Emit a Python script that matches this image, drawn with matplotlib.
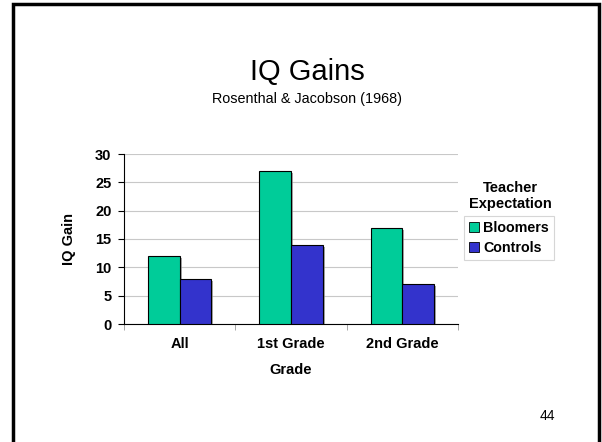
import numpy as np
import matplotlib.pyplot as plt
import matplotlib.patheffects as pe
from matplotlib.patches import Rectangle
from matplotlib.lines import Line2D

plt.rcParams['font.family'] = ['Liberation Sans', 'DejaVu Sans']

grades = ["All", "1st Grade", "2nd Grade"]
bloomers = [12, 27, 17]
controls = [8, 14, 7]
series_names = ["Bloomers", "Controls"]
green = "#00CC99"
blue = "#3333CC"

W, H = 602, 442
fig = plt.figure(figsize=(W / 100, H / 100), dpi=100)

# slide border (bottom edge is off the page)
fig.patches.append(Rectangle((13 / W, -0.05), (599 - 13) / W, (H - 4) / H + 0.05,
                             transform=fig.transFigure, fill=False,
                             edgecolor="black", linewidth=2.5))

ax = fig.add_axes([124 / W, (H - 324) / H, (458 - 124) / W, (324 - 154) / H])

x = np.arange(len(grades))
bw = 0.285
shadow = [pe.SimplePatchShadow(offset=(1.5, -1.5), shadow_rgbFace="gray", alpha=0.7), pe.Normal()]
ax.bar(x - bw / 2, bloomers, bw, color=green, edgecolor="black", linewidth=0.8,
       path_effects=shadow, zorder=3)
ax.bar(x + bw / 2, controls, bw, color=blue, edgecolor="black", linewidth=0.8,
       path_effects=shadow, zorder=3)

ax.set_xlim(-0.5, 2.5)
ax.set_ylim(0, 30)
ax.set_yticks(range(0, 31, 5))
ax.yaxis.grid(True, color="#c8c8c8", linewidth=0.8, zorder=0)
ax.set_axisbelow(True)

fs = 10.5
ax.set_xticks(x)
ax.set_xticklabels(grades, fontsize=fs, fontweight="bold")
ax.set_xticks([-0.5, 0.5, 1.5, 2.5], minor=True)
ax.tick_params(axis="x", which="major", length=0, pad=9)
ax.tick_params(axis="x", which="minor", length=4, color="#999999", direction="out")
ax.tick_params(axis="y", length=4, labelsize=fs, pad=5)
for t in ax.get_yticklabels():
    t.set_fontweight("bold")

for s in ["top", "right"]:
    ax.spines[s].set_visible(False)
ax.spines["left"].set_linewidth(0.8)
ax.spines["bottom"].set_linewidth(0.8)

ax.set_xlabel("Grade", fontsize=fs, fontweight="bold", labelpad=9)
ax.set_ylabel("IQ Gain", fontsize=fs, fontweight="bold", labelpad=14)

fig.text(307 / W, 1 - 72 / H, "IQ Gains", fontsize=21, ha="center", va="center")
fig.text(307 / W, 1 - 99 / H, "Rosenthal & Jacobson (1968)", fontsize=10.4, ha="center", va="center")

fig.text(510 / W, 1 - 188 / H, "Teacher", fontsize=fs, fontweight="bold", ha="center", va="center")
fig.text(510 / W, 1 - 204 / H, "Expectation", fontsize=fs, fontweight="bold", ha="center", va="center")

handles = [Line2D([], [], marker="s", linestyle="none", markersize=6.5,
                  markerfacecolor=c, markeredgecolor="black", markeredgewidth=0.6)
           for c in (green, blue)]
leg = fig.legend(handles, series_names, loc="upper left",
                 bbox_to_anchor=(464 / W, 1 - 216 / H), frameon=True, fancybox=False,
                 edgecolor="#cccccc", prop={"size": 10.3, "weight": "bold"},
                 handlelength=0.7, handletextpad=0.3, borderpad=0.35, labelspacing=0.45,
                 borderaxespad=0)
leg.get_frame().set_linewidth(0.8)

fig.text(547 / W, 1 - 416 / H, "44", fontsize=10, ha="center", va="center")

fig.savefig("out.png", dpi=100)
